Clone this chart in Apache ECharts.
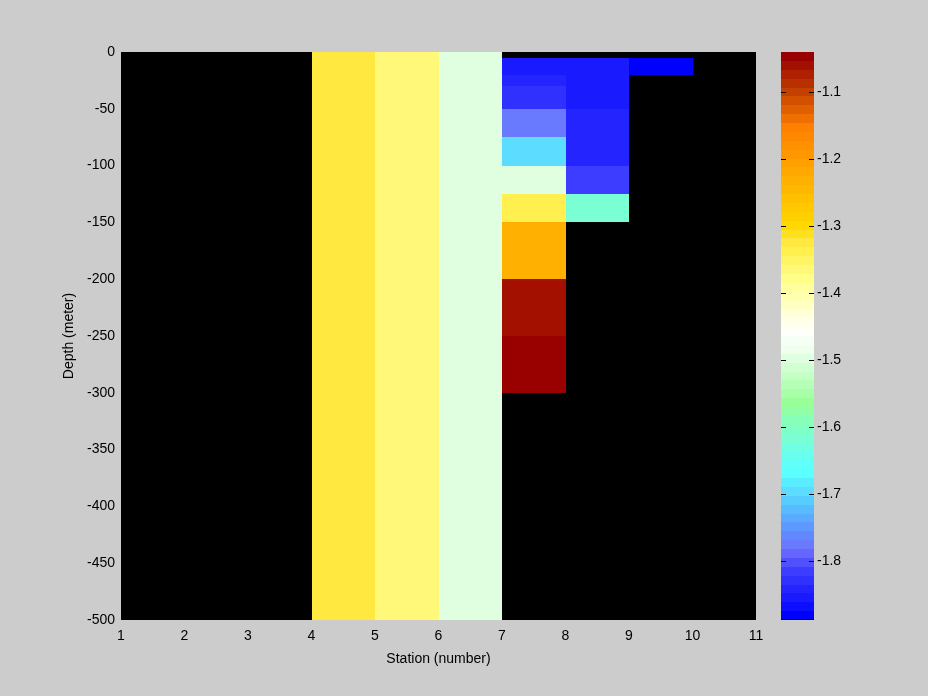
<!DOCTYPE html>
<html>
<head>
<meta charset="utf-8">
<script src="https://cdn.jsdelivr.net/npm/echarts@6/dist/echarts.min.js"></script>
<style>
html,body{margin:0;padding:0;background:#cccccc;}
#chart{width:928px;height:696px;}
</style>
</head>
<body>
<div id="chart"></div>
<script>
// ---- data ----
const stations = [1, 2, 3, 4, 5, 6, 7, 8, 9, 10, 11];
const depthEdges = [0, -5, -20, -30, -50, -75, -100, -125, -150, -200, -250, -300, -500];
// values for the cells between station i and i+1, one per depth layer (null = no data)
const col_1_2  = [null, null, null, null, null, null, null, null, null, null, null, null];
const col_2_3  = [null, null, null, null, null, null, null, null, null, null, null, null];
const col_3_4  = [null, null, null, null, null, null, null, null, null, null, null, null];
const col_4_5  = [-1.325, -1.325, -1.325, -1.325, -1.325, -1.325, -1.325, -1.325, -1.325, -1.325, -1.325, -1.325];
const col_5_6  = [-1.365, -1.365, -1.365, -1.365, -1.365, -1.365, -1.365, -1.365, -1.365, -1.365, -1.365, -1.365];
const col_6_7  = [-1.497, -1.497, -1.497, -1.497, -1.497, -1.497, -1.497, -1.497, -1.497, -1.497, -1.497, -1.497];
const col_7_8  = [null, -1.855, -1.842, -1.829, -1.776, -1.697, -1.497, -1.338, -1.232, -1.060, -1.041, null];
const col_8_9  = [null, -1.855, -1.855, -1.855, -1.842, -1.842, -1.816, -1.617, null, null, null, null];
const col_9_10 = [null, -1.888, null, null, null, null, null, null, null, null, null, null];
const col_10_11= [null, null, null, null, null, null, null, null, null, null, null, null];
const columns = [col_1_2, col_2_3, col_3_4, col_4_5, col_5_6, col_6_7, col_7_8, col_8_9, col_9_10, col_10_11];

const cbMin = -1.8885, cbMax = -1.0405;
const cbTicks = [-1.8, -1.7, -1.6, -1.5, -1.4, -1.3, -1.2, -1.1];
const depthTicks = [0, -50, -100, -150, -200, -250, -300, -350, -400, -450, -500];

// colormap, top (max) to bottom (min)
const cmapTopDown = [
 '#990000','#a31000','#ae2000','#b93000','#c44000','#d25000','#e06000','#ef7000',
 '#ff8000','#ff8800','#ff9000','#ff9800','#ffa000','#ffa800','#ffb000','#ffb800',
 '#ffc000','#ffc800','#ffd000','#ffd800','#ffe020','#ffe840','#fff050','#fff464',
 '#fff878','#ffff88','#ffff9c','#ffffb0','#ffffc4','#ffffd8','#ffffea','#fffffa',
 '#f6fff6','#eeffee','#e0ffe0','#d2ffd2','#c4ffc4','#b6ffb6','#a8ffa8','#99ff99',
 '#90ffa8','#88ffb8','#80ffc6','#7affd4','#70ffe2','#68ffee','#60fffa','#5affff',
 '#58eeff','#5cdcff','#56ccff','#58bbff','#5aaaff','#5e99ff','#6288ff','#6a7aff',
 '#6666ff','#5050ff','#3d3dff','#3030ff','#2424ff','#1a1aff','#0d0dff','#0000ff'
];
const cmap = cmapTopDown.slice().reverse();

// ---- build ----
const cells = [];
columns.forEach((col, i) => {
  col.forEach((v, j) => {
    if (v === null) return;
    cells.push([stations[i], stations[i + 1], depthEdges[j], depthEdges[j + 1], v]);
  });
});
const nC = cmap.length;
const step = (cbMax - cbMin) / nC;
const bands = [];
const pieces = [];
for (let k = 0; k < nC; k++) {
  const lo = cbMin + k * step, hi = cbMin + (k + 1) * step;
  bands.push([0, 1, hi, lo, (lo + hi) / 2]);
  const p = { gte: lo, color: cmap[k] };
  if (k < nC - 1) p.lt = hi; else p.lte = hi + 1;
  if (k === 0) p.gte = lo - 1;
  pieces.push(p);
}

function renderRect(params, api) {
  const p0 = api.coord([api.value(0), api.value(2)]);
  const p1 = api.coord([api.value(1), api.value(3)]);
  const x0 = Math.round(p0[0]), x1 = Math.round(p1[0]);
  const y0 = Math.round(p0[1]), y1 = Math.round(p1[1]);
  return {
    type: 'rect',
    shape: { x: x0, y: y0, width: x1 - x0, height: y1 - y0 },
    style: { fill: api.visual('color'), stroke: null }
  };
}

// colorbar tick marks (inside, on both edges) and bottom edge line
function renderTicks(params, api) {
  const v = api.value(0);
  const l = api.coord([0, v]);
  const r = api.coord([1, v]);
  const y = Math.round(l[1]) + 0.5;
  const xl = Math.round(l[0]), xr = Math.round(r[0]);
  if (api.value(1) === 1) {
    return { type: 'line', shape: { x1: xl, y1: Math.round(l[1]) - 0.5, x2: xr, y2: Math.round(l[1]) - 0.5 },
      style: { stroke: '#000', lineWidth: 1 } };
  }
  return {
    type: 'group',
    children: [
      { type: 'line', shape: { x1: xl, y1: y, x2: xl + 5, y2: y }, style: { stroke: '#000', lineWidth: 1 } },
      { type: 'line', shape: { x1: xr - 5, y1: y, x2: xr, y2: y }, style: { stroke: '#000', lineWidth: 1 } }
    ]
  };
}
const tickData = cbTicks.map(t => [t, 0]).concat([[cbMin, 1]]);

const font = 'Liberation Sans, Arial, Helvetica, sans-serif';
const fs = 14;
const chart = echarts.init(document.getElementById('chart'), null, { renderer: 'canvas' });
chart.setOption({
  backgroundColor: '#cccccc',
  animation: false,
  textStyle: { fontFamily: font, color: '#000' },
  grid: [
    { left: 121, top: 52, width: 635, height: 568, show: true, backgroundColor: '#000000', borderWidth: 0 },
    { left: 781, top: 52, width: 33, height: 568, show: false }
  ],
  visualMap: {
    type: 'piecewise', show: false, dimension: 4, seriesIndex: [0, 1], pieces: pieces
  },
  xAxis: [
    {
      gridIndex: 0, type: 'value', min: 1, max: 11, interval: 1,
      name: 'Station (number)', nameLocation: 'middle', nameGap: 32,
      nameTextStyle: { fontSize: fs, color: '#000', fontFamily: font },
      axisLine: { show: false }, axisTick: { show: false }, splitLine: { show: false },
      axisLabel: { fontSize: fs, color: '#000', margin: 9, fontFamily: font }
    },
    {
      gridIndex: 1, type: 'value', min: 0, max: 1,
      axisLine: { show: false }, axisTick: { show: false }, axisLabel: { show: false }, splitLine: { show: false }
    }
  ],
  yAxis: [
    {
      gridIndex: 0, type: 'value', min: -500, max: 0, interval: 50,
      name: 'Depth (meter)', nameLocation: 'middle', nameGap: 40, nameRotate: 90,
      nameTextStyle: { fontSize: fs, color: '#000', fontFamily: font },
      axisLine: { show: false }, axisTick: { show: false }, splitLine: { show: false },
      axisLabel: { fontSize: fs, color: '#000', margin: 6, fontFamily: font,
        customValues: depthTicks }
    },
    {
      gridIndex: 1, type: 'value', min: cbMin, max: cbMax, position: 'right',
      axisLine: { show: false }, splitLine: { show: false }, axisTick: { show: false },
      axisLabel: { show: true, fontSize: fs, color: '#000', margin: 3, fontFamily: font, customValues: cbTicks,
        formatter: v => v.toFixed(1) }
    }
  ],
  series: [
    {
      type: 'custom', xAxisIndex: 0, yAxisIndex: 0, renderItem: renderRect,
      data: cells, encode: { x: [0, 1], y: [2, 3] }, z: 2
    },
    {
      type: 'custom', xAxisIndex: 1, yAxisIndex: 1, renderItem: renderRect,
      data: bands, encode: { x: [0, 1], y: [2, 3] }, z: 1
    },
    {
      type: 'custom', xAxisIndex: 1, yAxisIndex: 1, renderItem: renderTicks,
      data: tickData, encode: { y: 0 }, z: 5, silent: true
    }
  ]
});
</script>
</body>
</html>
